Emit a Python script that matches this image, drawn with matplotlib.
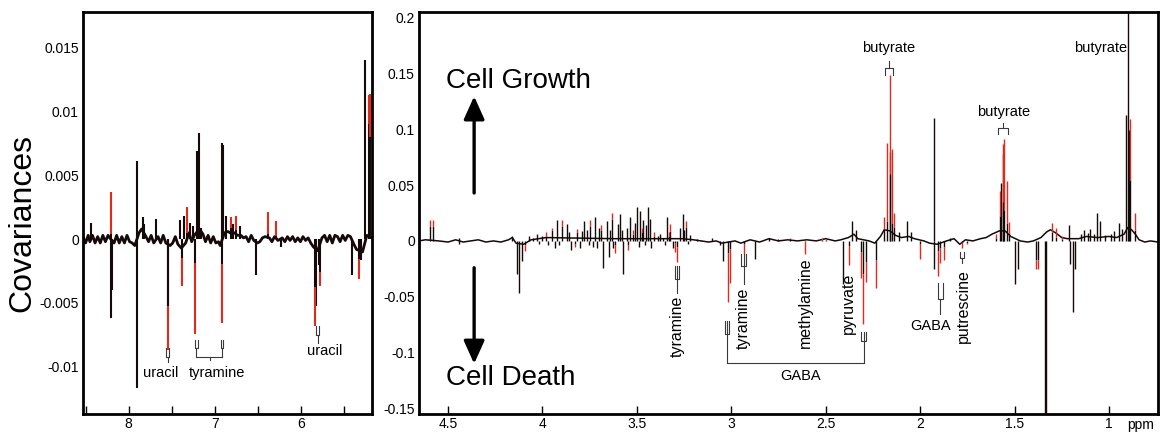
import numpy as np
import matplotlib
matplotlib.use('Agg')
import matplotlib.pyplot as plt

plt.rcParams['font.family'] = ['Liberation Sans', 'DejaVu Sans']

BLACK = '#150909'
RED = '#e3281c'
GREY = '#3a3a3a'

# ---- aromatic region (left panel) ----
# peak position (ppm), covariance at the tip, part of the tip that is red
arom_ppm = [8.44, 8.21, 8.20, 8.19, 7.90, 7.90, 7.83, 7.82, 7.68, 7.55, 7.54, 7.40, 7.38, 7.36,
            7.32, 7.29, 7.26, 7.23, 7.21, 7.19, 7.16, 6.92, 6.915, 6.905, 6.87, 6.82, 6.79, 6.76,
            6.71, 6.53, 6.39, 6.29, 6.24, 5.84, 5.83, 5.79, 5.78, 5.41, 5.33, 5.31, 5.26, 5.22, 5.20]
arom_cov = [0.00125, 0.0037, -0.0062, -0.0040, 0.0061, -0.0117, 0.0017, 0.0012, 0.0016, -0.0087,
            -0.0060, 0.0015, -0.0037, 0.0018, 0.0025, 0.0013, 0.0010, -0.0074, 0.0069, 0.0083,
            0.0009, -0.0066, 0.0075, 0.0074, 0.0018, 0.0017, 0.0012, 0.0018, 0.0010, -0.0028,
            0.0021, 0.0014, -0.0006, -0.0068, -0.0052, -0.0020, -0.0037, -0.0028, -0.0031,
            -0.0016, 0.0140, 0.0113, 0.0114]
arom_red = [0, 0.9, 0, 0, 0, 0, 0, 0, 0, 0.4, 0, 0, 0.6, 0, 0.8, 0, 0, 0.75, 0, 0, 0, 0.7, 0, 0,
            0, 0.5, 0, 0.6, 0, 0, 0.8, 0.8, 0, 0.45, 0, 0, 0.3, 0, 0.5, 0, 0, 0.2, 0.3]
# noisy baseline of the aromatic region
arom_base_ppm = [8.53, 8.50, 8.47, 8.45, 8.42, 8.39, 8.36, 8.33, 8.30, 8.27, 8.24, 8.22, 8.17, 8.14,
                 8.11, 8.08, 8.05, 8.02, 7.99, 7.96, 7.93, 7.88, 7.85, 7.80, 7.77, 7.74, 7.71, 7.66,
                 7.63, 7.60, 7.57, 7.52, 7.49, 7.46, 7.43, 7.39, 7.34, 7.30, 7.27, 7.24, 7.18, 7.14,
                 7.11, 7.08, 7.05, 7.02, 6.99, 6.96, 6.94, 6.89, 6.85, 6.80, 6.77, 6.74, 6.70, 6.67,
                 6.64, 6.61, 6.58, 6.55, 6.51, 6.48, 6.45, 6.42, 6.37, 6.34, 6.31, 6.27, 6.22, 6.19,
                 6.16, 6.13, 6.10, 6.07, 6.04, 6.01, 5.98, 5.95, 5.92, 5.89, 5.86, 5.81, 5.76, 5.73,
                 5.70, 5.67, 5.64, 5.61, 5.58, 5.55, 5.52, 5.49, 5.46, 5.43, 5.39, 5.36, 5.29, 5.24,
                 5.18]
arom_base_cov = [0.0002, -0.0003, 0.0003, -0.0002, 0.0003, -0.0003, 0.0002, -0.0003, 0.0003,
                 -0.0002, 0.0003, 0.0001, -0.0003, 0.0003, -0.0003, 0.0002, -0.0003, 0.0003,
                 -0.0002, -0.0003, -0.0005, 0.0005, 0.0008, 0.0002, -0.0002, 0.0003, -0.0003,
                 0.0002, -0.0003, 0.0003, -0.0003, -0.0005, -0.0003, 0.0002, -0.0004, -0.0007,
                 -0.0003, 0.0005, -0.0002, 0.0003, 0.0008, 0.0004, -0.0002, 0.0003, -0.0003,
                 0.0002, -0.0003, -0.0002, -0.0005, 0.0005, 0.0006, 0.0004, 0.0005, 0.0003, 0.0003,
                 0.0001, 0.0002, -0.0002, 0.0003, -0.0001, -0.0003, -0.0002, 0.0001, 0.0002, 0.0001,
                 -0.0002, 0.0002, -0.0001, 0.0001, -0.0002, 0.0002, -0.0001, 0.0002, -0.0002,
                 0.0001, -0.0002, 0.0002, -0.0001, 0.0001, -0.0003, -0.0006, -0.0009, 0.0001,
                 0.0003, -0.0002, 0.0003, -0.0003, 0.0003, 0.0002, -0.0002, 0.0003, -0.0001, 0.0003,
                 0.0002, -0.0004, -0.0008, -0.0010, 0.0003, 0.0001]

# ---- aliphatic region (right panel) ----
aliph_ppm = [4.595, 4.58, 4.44, 4.44, 4.16, 4.136, 4.124, 4.11, 4.09, 4.05, 4.00, 3.95, 3.935,
             3.924, 3.898, 3.87, 3.85, 3.818, 3.80, 3.78, 3.765, 3.748, 3.735, 3.72, 3.70, 3.677,
             3.66, 3.65, 3.633, 3.615, 3.60, 3.588, 3.571, 3.555, 3.535, 3.52, 3.50, 3.483, 3.465,
             3.44, 3.426, 3.41, 3.39, 3.36, 3.34, 3.324, 3.30, 3.288, 3.256, 3.239, 3.22, 3.18,
             3.10, 3.06, 3.044, 3.02, 3.006, 2.935, 2.873, 2.80, 2.75, 2.69, 2.608, 2.52, 2.50,
             2.408, 2.379, 2.36, 2.34, 2.313, 2.30, 2.285, 2.232, 2.19, 2.175, 2.161, 2.158,
             2.149, 2.14, 2.11, 2.07, 2.05, 2.00, 1.928, 1.925, 1.907, 1.896, 1.875, 1.84, 1.778,
             1.75, 1.60, 1.578, 1.569, 1.562, 1.56, 1.554, 1.54, 1.53, 1.495, 1.481, 1.386, 1.375,
             1.338, 1.332, 1.30, 1.28, 1.25, 1.209, 1.205, 1.19, 1.18, 1.15, 1.133, 1.11, 1.098,
             1.08, 1.062, 1.045, 1.02, 0.99, 0.975, 0.944, 0.93, 0.909, 0.898, 0.892, 0.886, 0.86,
             3.91, 3.86, 3.83, 3.79, 3.755, 3.71, 3.69, 3.645, 3.625, 3.58, 3.545, 3.51, 3.49,
             3.475, 3.455, 3.45, 3.43, 3.38, 3.35, 3.33, 3.31, 3.27, 3.25, 3.23, 4.07, 4.03, 4.02,
             3.98, 3.97]
aliph_cov = [0.019, 0.019, 0.003, -0.003, 0.004, -0.030, -0.047, -0.018, -0.009, 0.003, 0.004,
             0.012, -0.006, 0.019, 0.019, 0.015, -0.008, 0.011, -0.006, 0.018, 0.010, 0.019,
             -0.005, 0.021, 0.012, -0.024, 0.018, -0.014, 0.025, -0.011, 0.015, 0.024, -0.030,
             0.012, 0.021, 0.010, 0.030, 0.027, 0.019, 0.030, -0.006, 0.008, 0.004, 0.003, 0.021,
             0.015, -0.010, -0.019, 0.024, 0.018, 0.005, 0.002, 0.003, -0.004, -0.018, -0.055,
             -0.038, -0.012, -0.016, 0.003, 0.002, 0.003, -0.012, 0.003, 0.002, -0.039, -0.022,
             0.018, 0.010, -0.033, -0.074, -0.037, -0.042, 0.021, 0.088, 0.149, 0.080, 0.082,
             0.025, 0.008, 0.018, 0.008, -0.016, 0.110, -0.025, -0.031, -0.020, -0.017, 0.003,
             -0.006, -0.003, 0.006, 0.045, 0.052, 0.078, 0.087, 0.091, 0.054, 0.017, -0.039,
             -0.025, -0.025, -0.025, -0.155, -0.155, 0.016, 0.012, 0.004, 0.014, -0.021, -0.064,
             -0.025, 0.006, 0.010, 0.007, 0.011, 0.006, 0.025, 0.018, 0.005, 0.006, 0.0085, 0.016,
             0.011, 0.113, 0.26, 0.099, 0.109, 0.025,
             -0.004, 0.008, -0.005, 0.009, -0.004, -0.006, 0.014, 0.010, -0.006, 0.010, -0.008,
             0.016, -0.005, 0.012, -0.004, 0.014, 0.020, 0.006, -0.004, 0.008, -0.006, 0.012,
             0.010, -0.003, 0.004, 0.006, -0.003, 0.008, -0.004]
aliph_red = [0.3, 0.3, 0, 0, 0, 0, 0, 0, 0.6, 0, 0, 0.2, 0, 0, 0.3, 0, 0, 0.3, 0, 0, 0, 0.3, 0,
             0, 0, 0, 0, 0, 0.2, 0.7, 0, 0, 0, 0, 0, 0.4, 0, 0, 0, 0, 0, 0.5, 0, 0, 0, 0.4, 0.8,
             0.7, 0, 0.3, 0, 0, 0, 0, 0, 0.8, 0.8, 0.8, 0, 0, 0, 0.5, 0.9, 0.6, 0.6, 0, 0.8, 0,
             0, 0.7, 0.6, 0.5, 0.6, 0.5, 0.8, 0.6, 0, 0.8, 0.5, 0, 0, 0, 0.8, 0, 0, 0.7, 0.7, 0.7,
             0, 0.9, 0.5, 0.5, 0.5, 0, 0, 0.6, 0.7, 0.7, 0.6, 0, 0, 0.3, 0.3, 0, 0, 0.5, 0.7, 0.5,
             0, 0, 0, 0, 0, 0, 0, 0, 0, 0, 0, 0, 0, 0, 0, 0, 0, 0, 0, 0.5, 0.6,
             0, 0, 0.5, 0, 0, 0, 0.3, 0, 0, 0, 0.5, 0, 0, 0.3, 0, 0, 0, 0, 0, 0.4, 0, 0, 0, 0,
             0, 0, 0, 0.4, 0]
aliph_base_ppm = [4.654, 4.62, 4.55, 4.50, 4.46, 4.42, 4.38, 4.34, 4.30, 4.26, 4.22, 4.18, 4.16,
                  4.14, 4.10, 4.06, 4.02, 3.98, 3.62, 3.30, 3.26, 3.20, 3.16, 3.12, 3.08, 3.05,
                  2.98, 2.95, 2.90, 2.85, 2.80, 2.75, 2.70, 2.65, 2.60, 2.55, 2.50, 2.45, 2.42,
                  2.38, 2.35, 2.33, 2.27, 2.24, 2.21, 2.19, 2.16, 2.13, 2.10, 2.06, 2.03, 1.98,
                  1.95, 1.91, 1.86, 1.82, 1.79, 1.76, 1.72, 1.68, 1.65, 1.62, 1.58, 1.55, 1.52,
                  1.47, 1.43, 1.40, 1.36, 1.33, 1.31, 1.28, 1.25, 1.22, 1.16, 1.12, 1.06, 1.00,
                  0.96, 0.92, 0.90, 0.88, 0.86, 0.84, 0.81, 0.78, 0.74]
aliph_base_cov = [0.0, 0.001, 0.0, -0.001, 0.001, -0.001, 0.0, 0.001, -0.001, 0.0, -0.001, 0.001,
                  0.003, -0.002, -0.003, 0.001, 0.002, 0.003, 0.002, 0.002, 0.002, 0.001, 0.0,
                  -0.001, 0.000, -0.002, 0.0, -0.002, 0.001, -0.001, 0.002, 0.0, 0.001, 0.0, 0.001,
                  0.0, 0.002, 0.0, 0.001, 0.003, 0.006, 0.002, 0.0, -0.002, 0.004, 0.010, 0.009,
                  0.005, 0.003, 0.004, 0.002, 0.0, -0.002, -0.003, 0.0, 0.002, -0.003, 0.001, 0.0,
                  0.002, 0.003, 0.006, 0.009, 0.009, 0.004, 0.0, -0.001, 0.0, 0.003, 0.008, 0.010,
                  0.007, 0.003, 0.002, 0.002, 0.004, 0.003, 0.004, 0.003, 0.006, 0.012, 0.010,
                  0.006, 0.001, -0.001, 0.0, -0.001]

xlim_arom = (8.53, 5.18)
ylim_arom = (-0.0137, 0.0178)
xlim_aliph = (4.654, 0.74)
ylim_aliph = (-0.155, 0.205)


def draw_spectrum(ax, base_ppm, base_cov, ppm, cov, red, lw_base, lw):
    ax.plot(base_ppm, base_cov, color=BLACK, lw=lw_base, zorder=2)
    ppm = np.asarray(ppm)
    cov = np.asarray(cov)
    red = np.asarray(red, dtype=float)
    split = cov * (1 - red)
    ax.vlines(ppm, 0, split, color=BLACK, lw=lw, zorder=3)
    m = red > 0
    ax.vlines(ppm[m], split[m], cov[m], color=RED, lw=lw, zorder=3)


def comb(ax, x, y_open, y_closed, hw, stem_to=None, prong=False):
    kw = dict(color=GREY, lw=0.8, zorder=4)
    ax.plot([x - hw, x - hw, x + hw, x + hw], [y_open, y_closed, y_closed, y_open], **kw)
    if prong:
        ax.plot([x, x], [y_open, y_closed], **kw)
    if stem_to is not None:
        ax.plot([x, x], [y_closed, stem_to], **kw)


def style_axes(ax):
    for s in ax.spines.values():
        s.set_linewidth(2.0)
    ax.tick_params(axis='x', direction='in', length=6, width=1, pad=2, labelsize=10)
    ax.tick_params(axis='y', length=0, pad=3, labelsize=10)


fig = plt.figure(figsize=(11.66, 4.34), dpi=100)
axL = fig.add_axes([83 / 1166, 20 / 434, 289 / 1166, 402 / 434])
axR = fig.add_axes([419 / 1166, 20 / 434, 739 / 1166, 402 / 434])

# left panel
draw_spectrum(axL, arom_base_ppm, arom_base_cov, arom_ppm, arom_cov, arom_red, 2.0, 1.5)
axL.set_xlim(*xlim_arom)
axL.set_ylim(*ylim_arom)
axL.set_xticks([8.5, 8, 7.5, 7, 6.5, 6, 5.5])
axL.set_xticklabels(['', '8', '', '7', '', '6', ''])
axL.set_yticks([-0.01, -0.005, 0, 0.005, 0.01, 0.015])
axL.set_yticklabels(['-0.01', '-0.005', '0', '0.005', '0.01', '0.015'])
style_axes(axL)

comb(axL, 7.55, -0.0085, -0.0092, 0.015, stem_to=-0.0096)
axL.text(7.633, -0.01052, 'uracil', ha='center', va='center', fontsize=10.5)
comb(axL, 7.215, -0.00787, -0.0085, 0.015, stem_to=-0.0092)
comb(axL, 6.92, -0.00787, -0.0085, 0.015, stem_to=-0.0092)
axL.plot([7.215, 6.92], [-0.0092, -0.0092], color=GREY, lw=0.8)
axL.plot([7.06, 7.06], [-0.0092, -0.0095], color=GREY, lw=0.8)
axL.text(6.976, -0.01052, 'tyramine', ha='center', va='center', fontsize=10.5)
comb(axL, 5.81, -0.0068, -0.0075, 0.015, stem_to=-0.0081)
axL.text(5.733, -0.00877, 'uracil', ha='center', va='center', fontsize=10.5)

fig.text(22.5 / 1166, 0.486, 'Covariances', rotation=90, ha='center', va='center', fontsize=23)

# right panel
draw_spectrum(axR, aliph_base_ppm, aliph_base_cov, aliph_ppm, aliph_cov, aliph_red, 1.1, 1.0)
axR.set_xlim(*xlim_aliph)
axR.set_ylim(*ylim_aliph)
axR.set_xticks([4.5, 4, 3.5, 3, 2.5, 2, 1.5, 1])
axR.set_xticklabels(['4.5', '4', '3.5', '3', '2.5', '2', '1.5', '1'])
axR.set_yticks([-0.15, -0.1, -0.05, 0, 0.05, 0.1, 0.15, 0.2])
axR.set_yticklabels(['-0.15', '-0.1', '-0.05', '0', '0.05', '0.1', '0.15', '0.2'])
style_axes(axR)
fig.text(1141 / 1166, 1 - 425 / 434, 'ppm', ha='center', va='center', fontsize=10)

# growth / death arrows
axR.annotate('', xy=(4.362, 0.1295), xytext=(4.362, 0.0429),
             arrowprops=dict(arrowstyle='-|>,head_length=1.0,head_width=0.45', lw=2.4,
                             mutation_scale=14, color='black', shrinkA=0, shrinkB=0))
axR.annotate('', xy=(4.362, -0.110), xytext=(4.362, -0.024),
             arrowprops=dict(arrowstyle='-|>,head_length=1.0,head_width=0.45', lw=2.4,
                             mutation_scale=14, color='black', shrinkA=0, shrinkB=0))
axR.text(4.51, 0.143, 'Cell Growth', ha='left', va='center', fontsize=20)
axR.text(4.51, -0.123, 'Cell Death', ha='left', va='center', fontsize=20)

# metabolite labels
comb(axR, 2.167, 0.1488, 0.1548, 0.0212, stem_to=0.1607)
axR.text(2.167, 0.1726, 'butyrate', ha='center', va='center', fontsize=10.5)
comb(axR, 1.56, 0.0953, 0.1012, 0.0276, stem_to=0.1056)
axR.text(1.56, 0.1152, 'butyrate', ha='center', va='center', fontsize=10.5)
axR.text(1.045, 0.1724, 'butyrate', ha='center', va='center', fontsize=10.5)

comb(axR, 3.288, -0.0223, -0.0339, 0.012, stem_to=-0.047, prong=True)
axR.text(3.288, -0.0766, 'tyramine', rotation=90, ha='center', va='center', fontsize=11.5)
comb(axR, 2.935, -0.0116, -0.0223, 0.012, stem_to=-0.0384, prong=True)
axR.text(2.935, -0.0692, 'tyramine', rotation=90, ha='center', va='center', fontsize=11.5)

comb(axR, 3.023, -0.0714, -0.0833, 0.012, stem_to=-0.1096, prong=True)
comb(axR, 2.299, -0.0819, -0.0893, 0.012, stem_to=-0.1096, prong=True)
axR.plot([3.023, 2.299], [-0.1096, -0.1096], color=GREY, lw=0.8)
axR.text(2.635, -0.1206, 'GABA', ha='center', va='center', fontsize=10.5)

axR.text(2.608, -0.0551, 'methylamine', rotation=90, ha='center', va='center', fontsize=11.5)
axR.text(2.382, -0.0558, 'pyruvate', rotation=90, ha='center', va='center', fontsize=11.5)

comb(axR, 1.893, -0.0375, -0.0518, 0.014, stem_to=-0.0652)
axR.text(1.946, -0.0759, 'GABA', ha='center', va='center', fontsize=10.5)
comb(axR, 1.778, -0.0095, -0.0149, 0.012, stem_to=-0.0194)
axR.text(1.773, -0.058, 'putrescine', rotation=90, ha='center', va='center', fontsize=11.5)

fig.savefig('out.png', dpi=100)
